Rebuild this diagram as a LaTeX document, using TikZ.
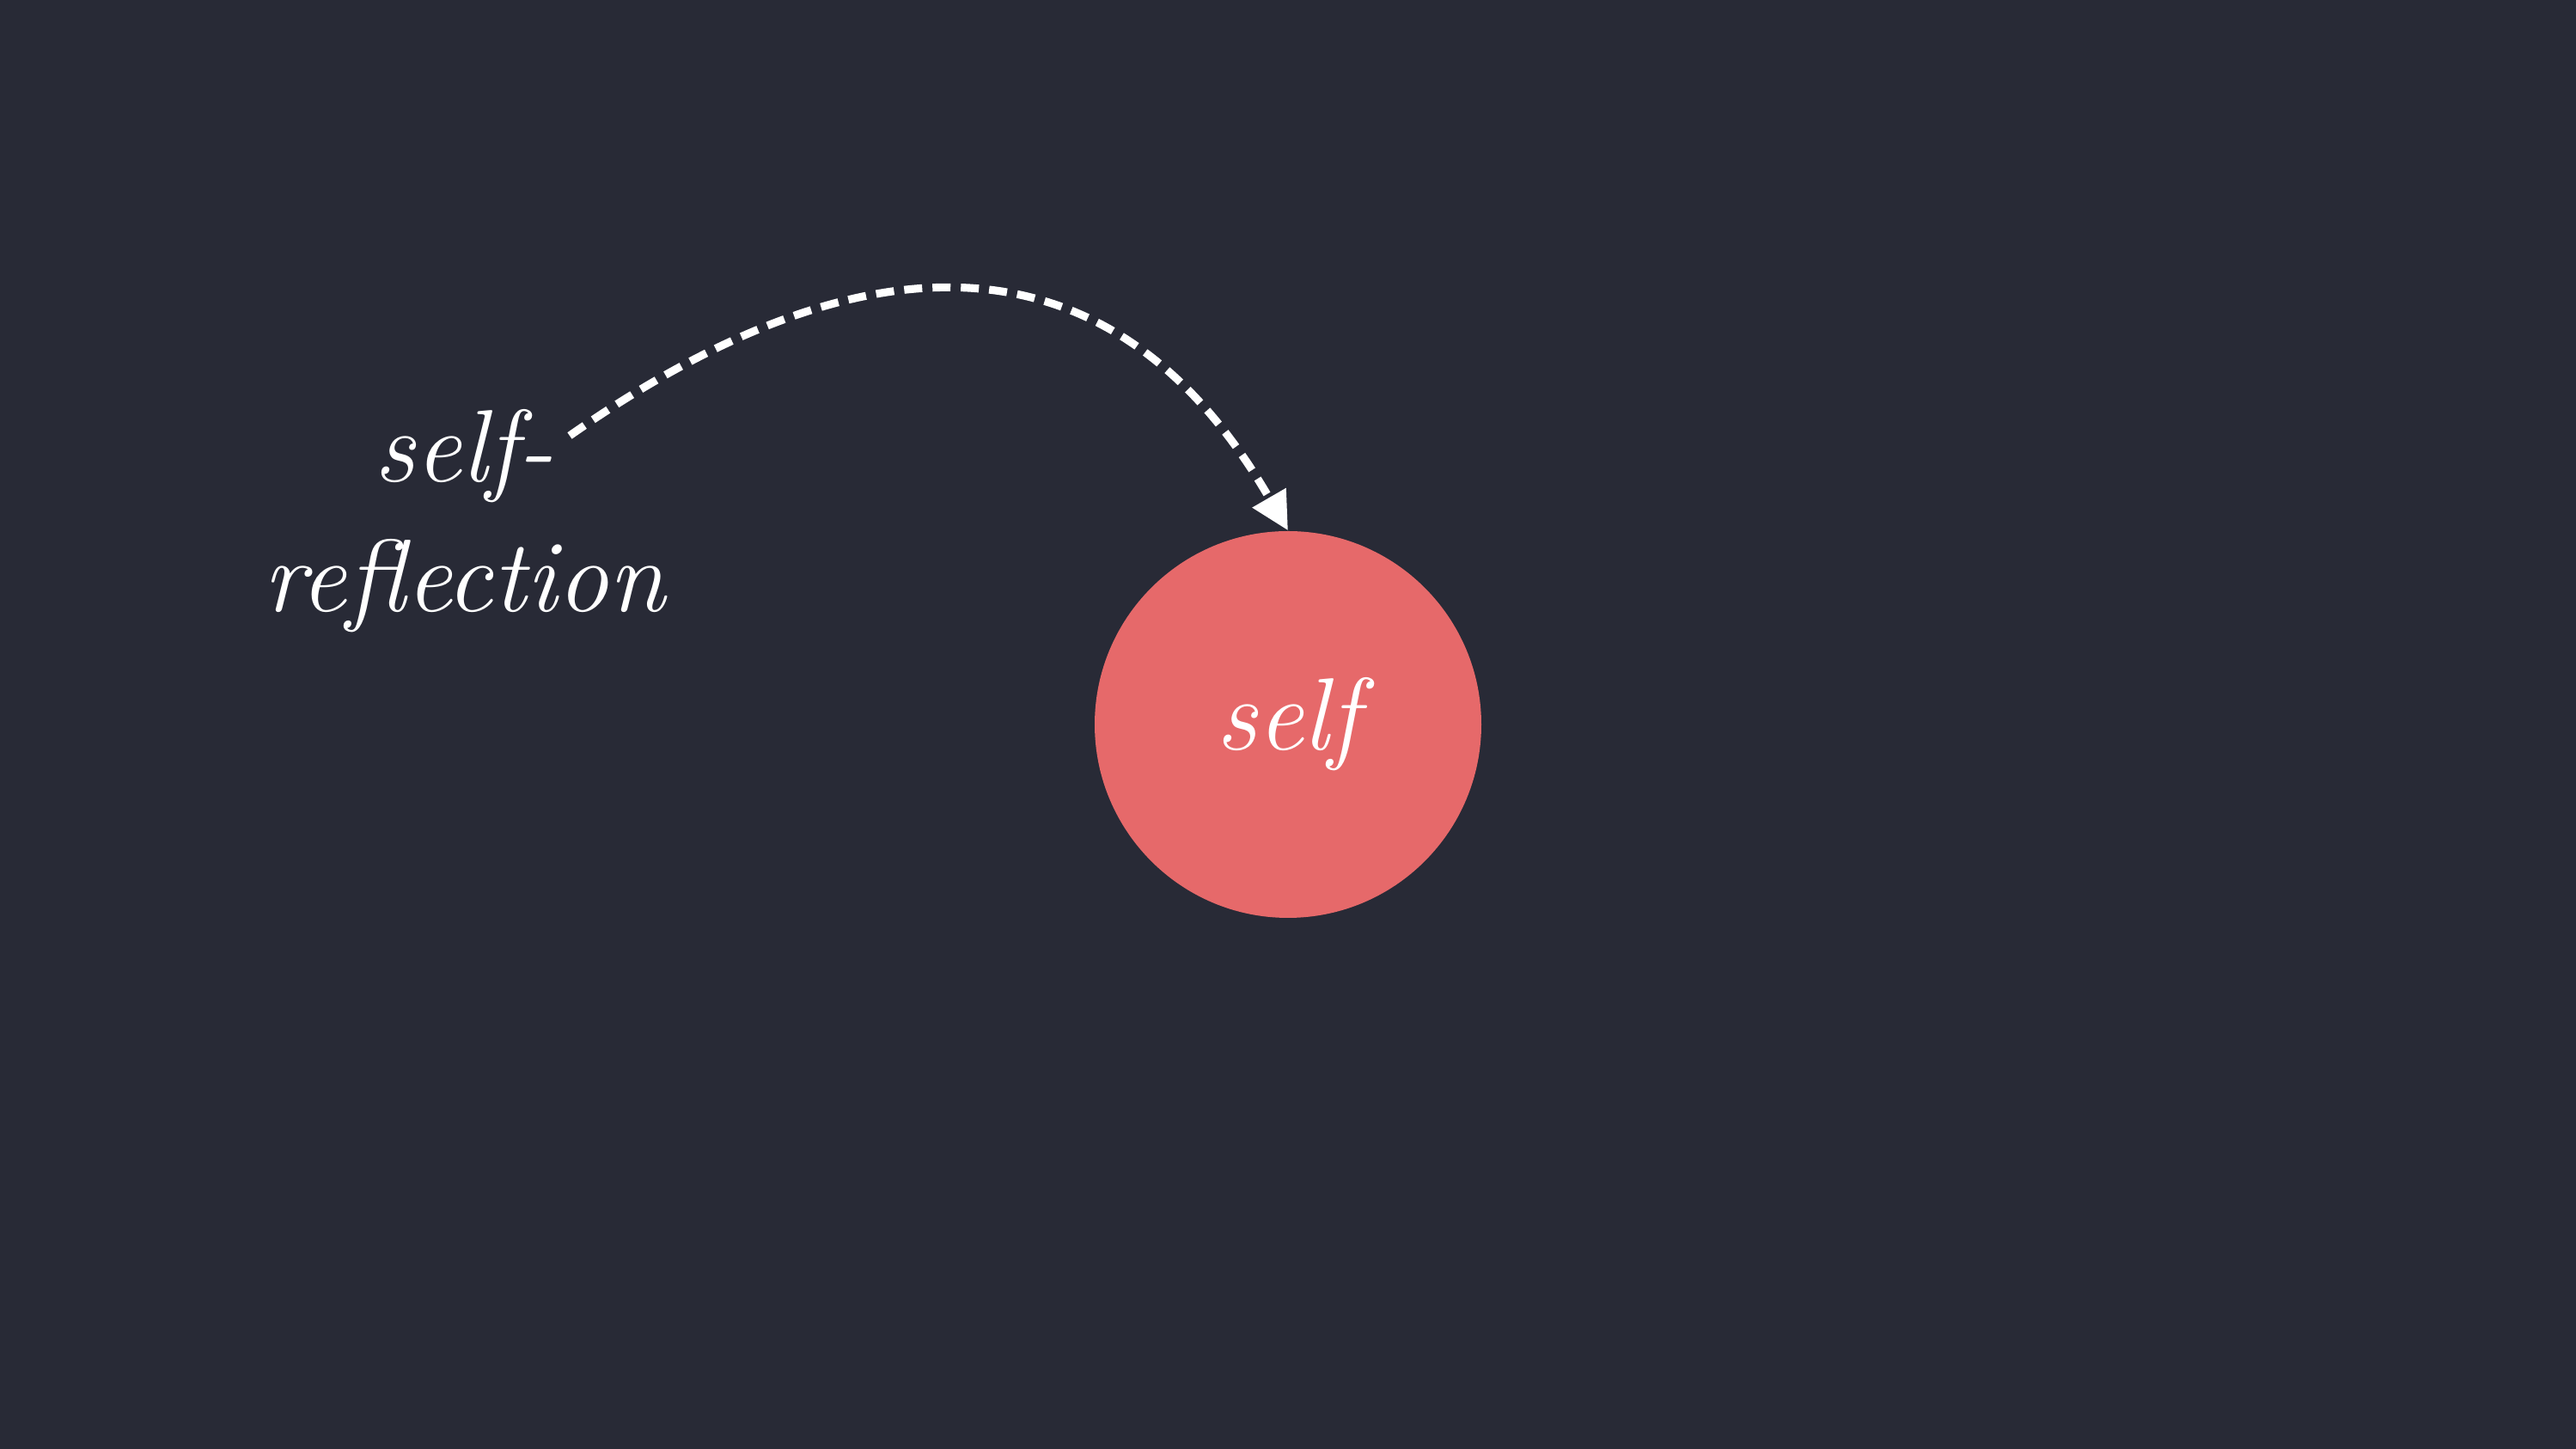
\documentclass[tikz,border=0pt]{standalone}
\usepackage{fontspec}
\usepackage{xcolor}
\usepackage{tikz}
\usetikzlibrary{arrows.meta}
\definecolor{bgdark}{HTML}{282A36}
\definecolor{selfred}{HTML}{E6696A}
\tikzset{ell/.style={circle,fill=selfred,minimum size=4.5cm,inner sep=0cm,text=white,font=\itshape\fontsize{34}{43}\selectfont}}
\tikzset{lbl/.style={align=center,text=white,font=\itshape\fontsize{34}{43}\selectfont}}
\tikzset{refl/.style={draw=white,line width=2.6pt,dash pattern=on 0.21cm off 0.12cm,-{Triangle[length=0.44cm,width=0.43cm]}}}

\begin{document}
\begin{tikzpicture}[>=stealth]
    \fill[bgdark] (0,0) rectangle (29.98,16.86);
    \useasboundingbox (0,0) rectangle (29.98,16.86);

    \node[ell] (s) at (14.99,8.43) {self};
    \node[lbl] (r) at (5.40,10.80) {self-\\reflection};
    \coordinate (rend) at (6.63,11.79);

    \draw [refl] (rend) to [out=35,in=120,looseness=1.25] (s.north);
\end{tikzpicture}
\end{document}
